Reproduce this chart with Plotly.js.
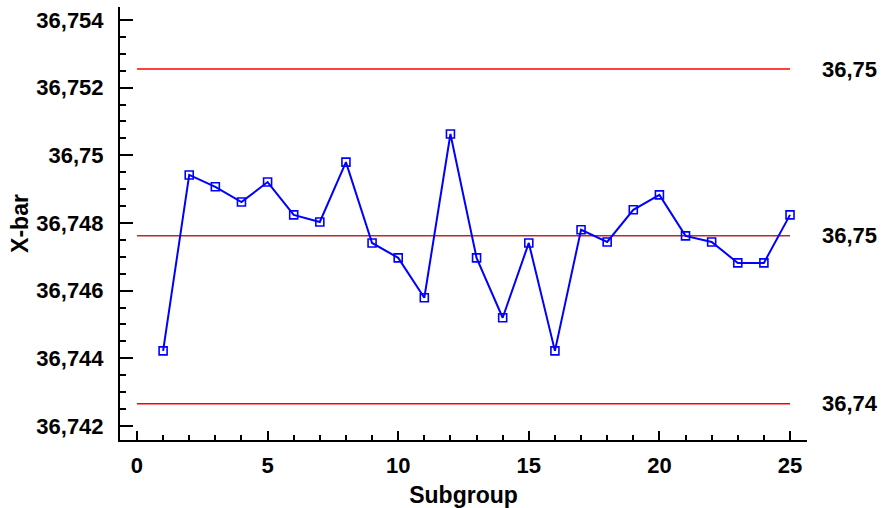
<!DOCTYPE html>
<html>
<head>
<meta charset="utf-8">
<script src="https://cdn.plot.ly/plotly-3.0.1.min.js"></script>
<style>html,body{margin:0;padding:0;background:#fff;}#chart{width:884px;height:508px;}</style>
</head>
<body>
<div id="chart"></div>
<script>
const subgroups = [1,2,3,4,5,6,7,8,9,10,11,12,13,14,15,16,17,18,19,20,21,22,23,24,25];
const xbar = [36.74422,36.74942,36.74907,36.74862,36.74921,36.74824,36.74803,36.74980,36.74741,36.74697,
              36.74579,36.75063,36.74697,36.74520,36.74741,36.74422,36.74780,36.74744,36.74839,36.74883,
              36.74762,36.74744,36.74682,36.74682,36.74824];
const ucl = 36.75255;
const cl = 36.74762;
const lcl = 36.74266;
const limitValues = [ucl, cl, lcl];
const limitLabels = ['36,75', '36,75', '36,74'];
const limitColors = ['#ff0000', '#b52a2a', '#ff0000'];
const yTickVals = [36.742, 36.744, 36.746, 36.748, 36.750, 36.752, 36.754];
const yTickText = ['36,742', '36,744', '36,746', '36,748', '36,75', '36,752', '36,754'];
const xTickVals = [0, 5, 10, 15, 20, 25];
const xTickText = ['0', '5', '10', '15', '20', '25'];
const limitX = [0, subgroups[subgroups.length - 1]];

const fontFam = '"Liberation Sans", Arial, sans-serif';
const traces = limitValues.map((v, i) => ({
  x: limitX, y: [v, v], mode: 'lines', type: 'scatter',
  line: {color: limitColors[i], width: 1.5}, hoverinfo: 'skip', showlegend: false
}));
traces.push({
  x: subgroups, y: xbar, mode: 'lines+markers', type: 'scatter',
  line: {color: '#0000ff', width: 2},
  marker: {symbol: 'square-open', size: 8, color: '#0000ff', line: {width: 1.6, color: '#0000ff'}},
  showlegend: false
});

const annotations = limitValues.map((v, i) => ({
  xref: 'paper', yref: 'y', x: 1, y: v, xanchor: 'left', yanchor: 'middle',
  xshift: 13, text: limitLabels[i], showarrow: false,
  font: {family: fontFam, size: 22, color: '#000', weight: 'bold'}
}));

const layout = {
  width: 884, height: 508,
  margin: {l: 120, r: 77, t: 7, b: 68, pad: 0},
  paper_bgcolor: '#fff', plot_bgcolor: '#fff',
  separators: ',.',
  showlegend: false,
  xaxis: {
    range: [-0.65, 25.65], showgrid: false, zeroline: false,
    showline: true, linecolor: '#000', linewidth: 2,
    tickmode: 'array', tickvals: xTickVals, ticktext: xTickText,
    ticks: 'inside', ticklen: 9, tickwidth: 2, tickcolor: '#000',
    minor: {ticks: 'inside', ticklen: 5, tickwidth: 2, tickcolor: '#000', tickmode: 'linear', tick0: 0, dtick: 1},
    ticklabelstandoff: 5,
    tickfont: {family: fontFam, size: 22, color: '#000', weight: 'bold'},
    title: {text: 'Subgroup', standoff: 12, font: {family: fontFam, size: 23, color: '#000', weight: 'bold'}}
  },
  yaxis: {
    range: [36.741586, 36.754384], showgrid: false, zeroline: false,
    showline: true, linecolor: '#000', linewidth: 2,
    tickmode: 'array', tickvals: yTickVals, ticktext: yTickText,
    ticks: 'inside', ticklen: 13, tickwidth: 2, tickcolor: '#000',
    minor: {ticks: 'inside', ticklen: 6, tickwidth: 2, tickcolor: '#000', tickmode: 'linear', tick0: 36.742, dtick: 0.0005},
    ticklabelstandoff: 10,
    tickfont: {family: fontFam, size: 22, color: '#000', weight: 'bold'},
    title: {text: 'X-bar', standoff: 1, font: {family: fontFam, size: 23, color: '#000', weight: 'bold'}}
  },
  annotations: annotations
};

Plotly.newPlot('chart', traces, layout, {displayModeBar: false, staticPlot: true});
</script>
</body>
</html>
